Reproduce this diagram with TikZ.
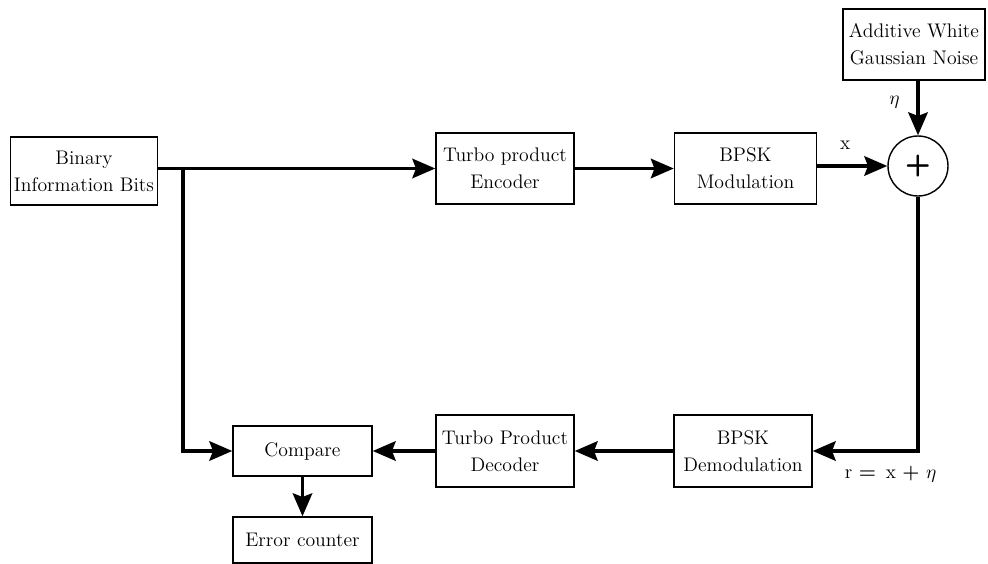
\documentclass[tikz,border=0pt]{standalone}
\usepackage{tikz}
\usetikzlibrary{arrows.meta, positioning, calc}

\begin{document}
\begin{tikzpicture}[
    x=0.02cm, y=-0.02cm,
    font=\fontsize{11.2}{15.5}\selectfont,
    blok/.style={draw, line width=0.8pt, align=center, inner sep=2pt,
                 minimum width=2.76cm, minimum height=1.42cm},
    jalur/.style={line width=2.2pt, -{Stealth[length=13pt, width=11pt, inset=2pt]}},
    garis/.style={line width=2.2pt}
  ]
    \useasboundingbox (0,0) rectangle (988,564);
    % baris atas
    \node[blok, minimum width=2.94cm, minimum height=1.36cm] (bits) at (84,171)
      {Binary\\Information Bits};
    \node[blok] (enc) at (505,168.5) {Turbo product\\Encoder};
    \node[blok, minimum width=2.84cm] (mod) at (745.5,168.5) {BPSK\\Modulation};
    \node[draw, circle, line width=0.8pt, minimum size=1.2cm, inner sep=0pt,
          font=\fontsize{17}{17}\selectfont\sffamily\bfseries] (sum) at (918,166) {+};
    \node[blok, minimum width=2.84cm] (awgn) at (914,44.5)
      {Additive White\\Gaussian Noise};
    % baris bawah
    \node[blok, minimum height=1.44cm] (demod) at (743,451) {BPSK\\Demodulation};
    \node[blok, minimum height=1.44cm] (dec) at (505,451) {Turbo Product\\Decoder};
    \node[blok, minimum width=2.78cm, minimum height=1.0cm] (cmp) at (302.5,451)
      {Compare};
    \node[blok, minimum width=2.78cm, minimum height=0.92cm] (err) at (302.5,540)
      {Error counter};
    \coordinate (cabang) at (183,168);
    % sambungan
    \draw[jalur] (bits.east |- enc.west) -- (enc.west);
    \draw[jalur] (cabang) |- (cmp.west);
    \draw[jalur] (enc) -- (mod);
    \draw[jalur] (mod.east |- sum.west) -- (sum.west)
      node[pos=0.4, above=5pt] (lx) {x};
    \draw[jalur] (awgn.south -| sum.north) -- (sum.north)
      node[pos=0.4, left=6pt] (leta) {$\eta$};
    \draw[jalur] (sum.south) |- (demod.east)
      node[pos=0.63, below=4pt] (lr) {r \textbf{=}\, x \textbf{+} $\eta$};
    \draw[jalur] (demod) -- (dec);
    \draw[jalur] (dec) -- (cmp);
    \draw[jalur] (cmp) -- (err);
  \end{tikzpicture}
\end{document}
